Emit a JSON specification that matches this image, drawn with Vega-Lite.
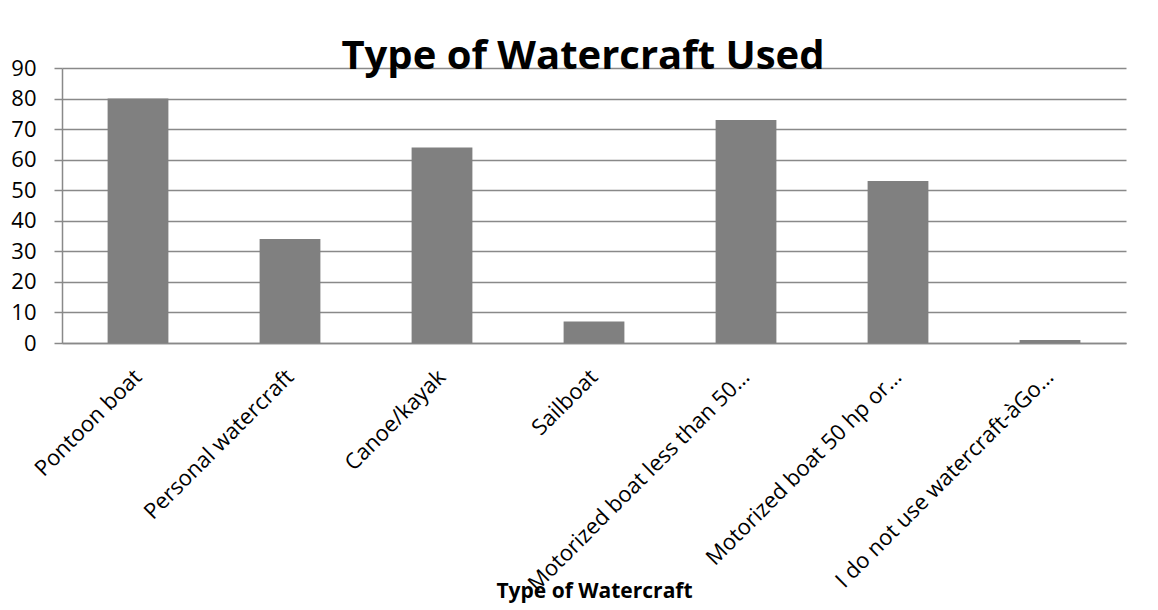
{
  "$schema": "https://vega.github.io/schema/vega-lite/v6.json",
  "autosize": {"type": "none"},
  "width": 1064,
  "height": 275,
  "padding": {"left": 62, "top": 68, "right": 32, "bottom": 267},
  "background": "white",
  "title": {
    "text": "Type of Watercraft Used",
    "font": "Open Sans",
    "fontSize": 40,
    "fontWeight": "bold",
    "color": "black",
    "anchor": "middle",
    "dx": -11,
    "dy": 50,
    "offset": -2,
    "baseline": "alphabetic"
  },
  "data": {
    "values": [
      {"type": "Pontoon boat", "count": 80},
      {"type": "Personal watercraft", "count": 34},
      {"type": "Canoe/kayak", "count": 64},
      {"type": "Sailboat", "count": 7},
      {"type": "Motorized boat less than 50…", "count": 73},
      {"type": "Motorized boat 50 hp or…", "count": 53},
      {"type": "I do not use watercraft-àGo…", "count": 1}
    ]
  },
  "mark": {"type": "bar", "color": "#808080"},
  "encoding": {
    "x": {
      "field": "type",
      "type": "nominal",
      "sort": null,
      "scale": {"paddingInner": 0.6, "paddingOuter": 0.3},
      "axis": {
        "title": "Type of Watercraft",
        "titleFont": "Open Sans",
        "titleFontSize": 21,
        "titleFontWeight": "bold",
        "titleColor": "black",
        "titleBaseline": "alphabetic",
        "titleY": 254,
        "labelAngle": -45,
        "labelAlign": "right",
        "labelBaseline": "middle",
        "labelFont": "Open Sans",
        "labelFontSize": 22,
        "labelColor": "black",
        "labelPadding": 30,
        "labelOffset": 0,
        "labelLimit": 0,
        "ticks": false,
        "domainColor": "#898989",
        "domainWidth": 1.5,
        "grid": false
      }
    },
    "y": {
      "field": "count",
      "type": "quantitative",
      "scale": {"domain": [0, 90], "nice": false},
      "axis": {
        "title": null,
        "values": [0, 10, 20, 30, 40, 50, 60, 70, 80, 90],
        "labelFont": "Open Sans",
        "labelFontSize": 22,
        "labelColor": "black",
        "labelPadding": 18,
        "tickColor": "#898989",
        "tickSize": 8,
        "tickWidth": 1.5,
        "domainColor": "#898989",
        "domainWidth": 1.5,
        "gridColor": "#898989",
        "gridWidth": 1.5
      }
    }
  },
  "config": {"view": {"stroke": null}}
}
